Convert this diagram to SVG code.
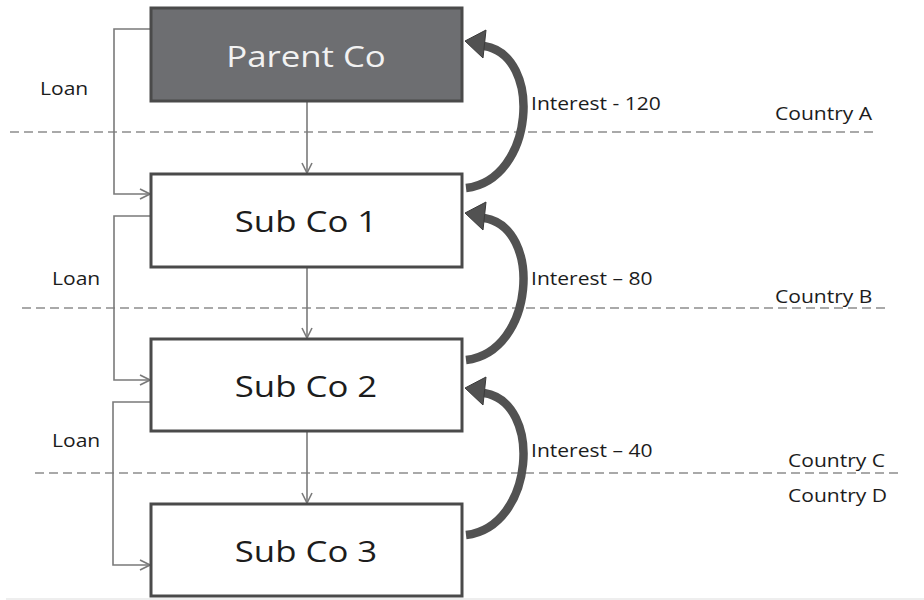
<svg xmlns="http://www.w3.org/2000/svg" width="924" height="600" viewBox="0 0 924 600">
  <style>
    .box { stroke: #4a4a4a; stroke-width: 3; }
    .sub { fill: #ffffff; }
    .parent { fill: #6d6e71; }
    .boxlabel { font-family: "Open Sans", "Liberation Sans", sans-serif; font-size: 30px; text-anchor: middle; }
    .label { font-family: "Open Sans", "Liberation Sans", sans-serif; font-size: 18px; fill: #1c1c1c; }
    .border { stroke: #a9a9a9; stroke-width: 2; stroke-dasharray: 9 5; fill: none; }
    .conn { stroke: #7a7a7a; stroke-width: 1.6; fill: none; marker-end: url(#open); }
    .flow { stroke: #525252; stroke-width: 8.5; fill: none; }
    .head { fill: #525252; stroke: #3a3a3a; stroke-width: 1; }
  </style>
  <defs>
    <marker id="open" viewBox="0 0 12 12" refX="11" refY="6" markerWidth="12" markerHeight="12" markerUnits="userSpaceOnUse" orient="auto">
      <path d="M1,1 L11,6 L1,11" fill="none" stroke="#7a7a7a" stroke-width="1.6"/>
    </marker>
    <!-- curved interest flow: from the lower box back up to the one above -->
    <g id="interestArrow">
      <path class="flow" d="M466,188 C535,180 543,55 484,46"/>
      <polygon class="head" points="465,41 486,30 483,58"/>
    </g>
  </defs>

  <rect width="924" height="600" fill="#ffffff"/>
  <line x1="6" y1="599" x2="924" y2="599" stroke="#e8e8e8" stroke-width="1.5"/>

  <!-- country borders -->
  <g id="borders">
    <line class="border" x1="10" y1="132" x2="875" y2="132"/>
    <line class="border" x1="22" y1="308" x2="887" y2="308"/>
    <line class="border" x1="35" y1="473" x2="900" y2="473"/>
    <text class="label" transform="translate(775 120) scale(1.17 1)">Country A</text>
    <text class="label" transform="translate(775 303) scale(1.17 1)">Country B</text>
    <text class="label" transform="translate(788 467) scale(1.17 1)">Country C</text>
    <text class="label" transform="translate(788 502) scale(1.17 1)">Country D</text>
  </g>

  <!-- connectors: ownership, loans and interest flows -->
  <g id="connectors">
    <path class="conn" d="M307,102 V173"/>
    <path class="conn" d="M307,267 V338"/>
    <path class="conn" d="M307,431 V503"/>

    <path class="conn" d="M151,29 H114 V194 H150"/>
    <path class="conn" d="M151,216 H114 V380 H150"/>
    <path class="conn" d="M151,402 H113 V565 H150"/>
    <text class="label" transform="translate(40 95) scale(1.17 1)">Loan</text>
    <text class="label" transform="translate(52 285) scale(1.17 1)">Loan</text>
    <text class="label" transform="translate(52 447) scale(1.17 1)">Loan</text>

    <use href="#interestArrow"/>
    <use href="#interestArrow" transform="translate(0 172)"/>
    <use href="#interestArrow" transform="translate(0 347)"/>
    <text class="label" transform="translate(531 110) scale(1.17 1)">Interest - 120</text>
    <text class="label" transform="translate(531 285) scale(1.17 1)">Interest – 80</text>
    <text class="label" transform="translate(531 457) scale(1.17 1)">Interest – 40</text>
  </g>

  <g id="parent-co">
    <rect class="box parent" x="151" y="8" width="311" height="93"/>
    <text class="boxlabel" fill="#f2f2f2" transform="translate(306 67) scale(1.16 1)">Parent Co</text>
  </g>
  <g id="sub-co-1">
    <rect class="box sub" x="151" y="174" width="311" height="93"/>
    <text class="boxlabel" fill="#1c1c1c" transform="translate(306 232) scale(1.16 1)">Sub Co 1</text>
  </g>
  <g id="sub-co-2">
    <rect class="box sub" x="151" y="339" width="311" height="92"/>
    <text class="boxlabel" fill="#1c1c1c" transform="translate(306 397) scale(1.16 1)">Sub Co 2</text>
  </g>
  <g id="sub-co-3">
    <rect class="box sub" x="151" y="504" width="311" height="92"/>
    <text class="boxlabel" fill="#1c1c1c" transform="translate(306 562) scale(1.16 1)">Sub Co 3</text>
  </g>
</svg>
